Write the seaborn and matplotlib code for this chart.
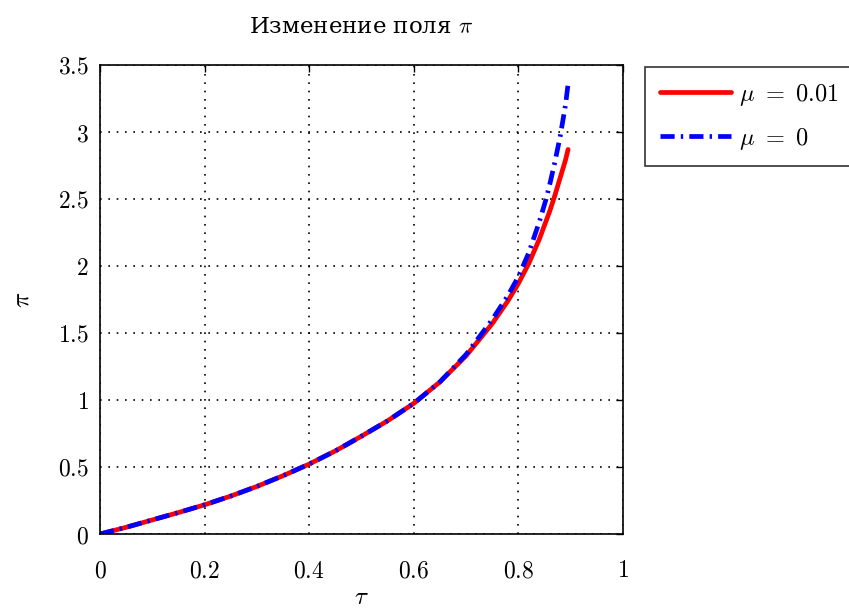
import matplotlib
matplotlib.use("Agg")
import matplotlib.pyplot as plt
import seaborn as sns
import pandas as pd

# ---- data ----
tau_red = [0.0, 0.05, 0.1, 0.15, 0.2, 0.25, 0.3, 0.35, 0.4, 0.45, 0.5, 0.55, 0.6, 0.65,
           0.7, 0.75, 0.78, 0.8, 0.82, 0.84, 0.86, 0.87, 0.88, 0.89, 0.895]
pi_red  = [0.0, 0.05, 0.105, 0.16, 0.218, 0.283, 0.355, 0.435, 0.522, 0.62, 0.73, 0.845, 0.975, 1.135,
           1.33, 1.57, 1.74, 1.87, 2.02, 2.2, 2.41, 2.53, 2.66, 2.79, 2.87]

tau_blue = [0.0, 0.05, 0.1, 0.15, 0.2, 0.25, 0.3, 0.35, 0.4, 0.45, 0.5, 0.55, 0.6, 0.65,
            0.7, 0.75, 0.78, 0.8, 0.82, 0.84, 0.853, 0.86, 0.87, 0.88, 0.89, 0.896]
pi_blue  = [0.0, 0.05, 0.105, 0.16, 0.218, 0.283, 0.355, 0.435, 0.522, 0.62, 0.73, 0.845, 0.975, 1.135,
            1.34, 1.6, 1.78, 1.92, 2.1, 2.33, 2.5, 2.61, 2.78, 2.97, 3.2, 3.39]

series_labels = [r"$\mu\ =\ 0.01$", r"$\mu\ =\ 0$"]
xticks = [0, 0.2, 0.4, 0.6, 0.8, 1]
xtick_labels = ["0", "0.2", "0.4", "0.6", "0.8", "1"]
yticks = [0, 0.5, 1, 1.5, 2, 2.5, 3, 3.5]
ytick_labels = ["0", "0.5", "1", "1.5", "2", "2.5", "3", "3.5"]
title = r"Изменение поля $\pi$"

df_red = pd.DataFrame({"tau": tau_red, "pi": pi_red})
df_blue = pd.DataFrame({"tau": tau_blue, "pi": pi_blue})

sns.set_style("white")
plt.rcParams["font.family"] = ["DejaVu Serif"]
plt.rcParams["mathtext.fontset"] = "cm"
plt.rcParams["text.color"] = "black"

fig = plt.figure(figsize=(8.49, 6.11), dpi=100)
ax = fig.add_axes([100 / 849, 1 - 534 / 611, 523 / 849, 469 / 611])

sns.lineplot(data=df_red, x="tau", y="pi", ax=ax, color="#ff0000", lw=3.4,
             estimator=None, sort=False, label=series_labels[0])
sns.lineplot(data=df_blue, x="tau", y="pi", ax=ax, color="#0000ff", lw=3.4,
             estimator=None, sort=False, label=series_labels[1])
for ln in ax.get_lines():
    ln.set_solid_joinstyle("round")
blue = ax.get_lines()[1]
blue.set_dashes((3.0, 1.3, 0.5, 1.3))
blue.set_dash_capstyle("butt")

ax.set_xlim(0, 1)
ax.set_ylim(0, 3.5)
ax.set_xticks(xticks)
ax.set_xticklabels(["$" + t + "$" for t in xtick_labels])
ax.set_yticks(yticks)
ax.set_yticklabels(["$" + t + "$" for t in ytick_labels])
ax.tick_params(direction="in", length=5, width=1, colors="black",
               top=True, right=True, labelsize=17)
ax.tick_params(axis="x", pad=18)
ax.tick_params(axis="y", pad=8)
for s in ax.spines.values():
    s.set_color("black")
    s.set_linewidth(1.2)

ax.grid(True, color="black", linestyle=(0, (1, 4)), linewidth=1.2)

ax.set_xlabel(r"$\tau$", fontsize=18, labelpad=3, color="black")
ax.set_ylabel(r"$\pi$", fontsize=18, labelpad=18, rotation=90, color="black")
ax.set_title(title, fontsize=16.5, pad=23, color="black")

handles, labels = ax.get_legend_handles_labels()
if ax.legend_:
    ax.legend_.remove()
leg = fig.legend(handles, labels, loc="upper left",
                 bbox_to_anchor=(645 / 849, 1 - 67 / 611), fontsize=17.5,
                 frameon=True, fancybox=False, edgecolor="black",
                 handlelength=2.95, borderpad=0.6, labelspacing=0.75,
                 handletextpad=0.3, borderaxespad=0.0)
leg.get_frame().set_linewidth(1.2)

fig.savefig("out.png", dpi=100)
